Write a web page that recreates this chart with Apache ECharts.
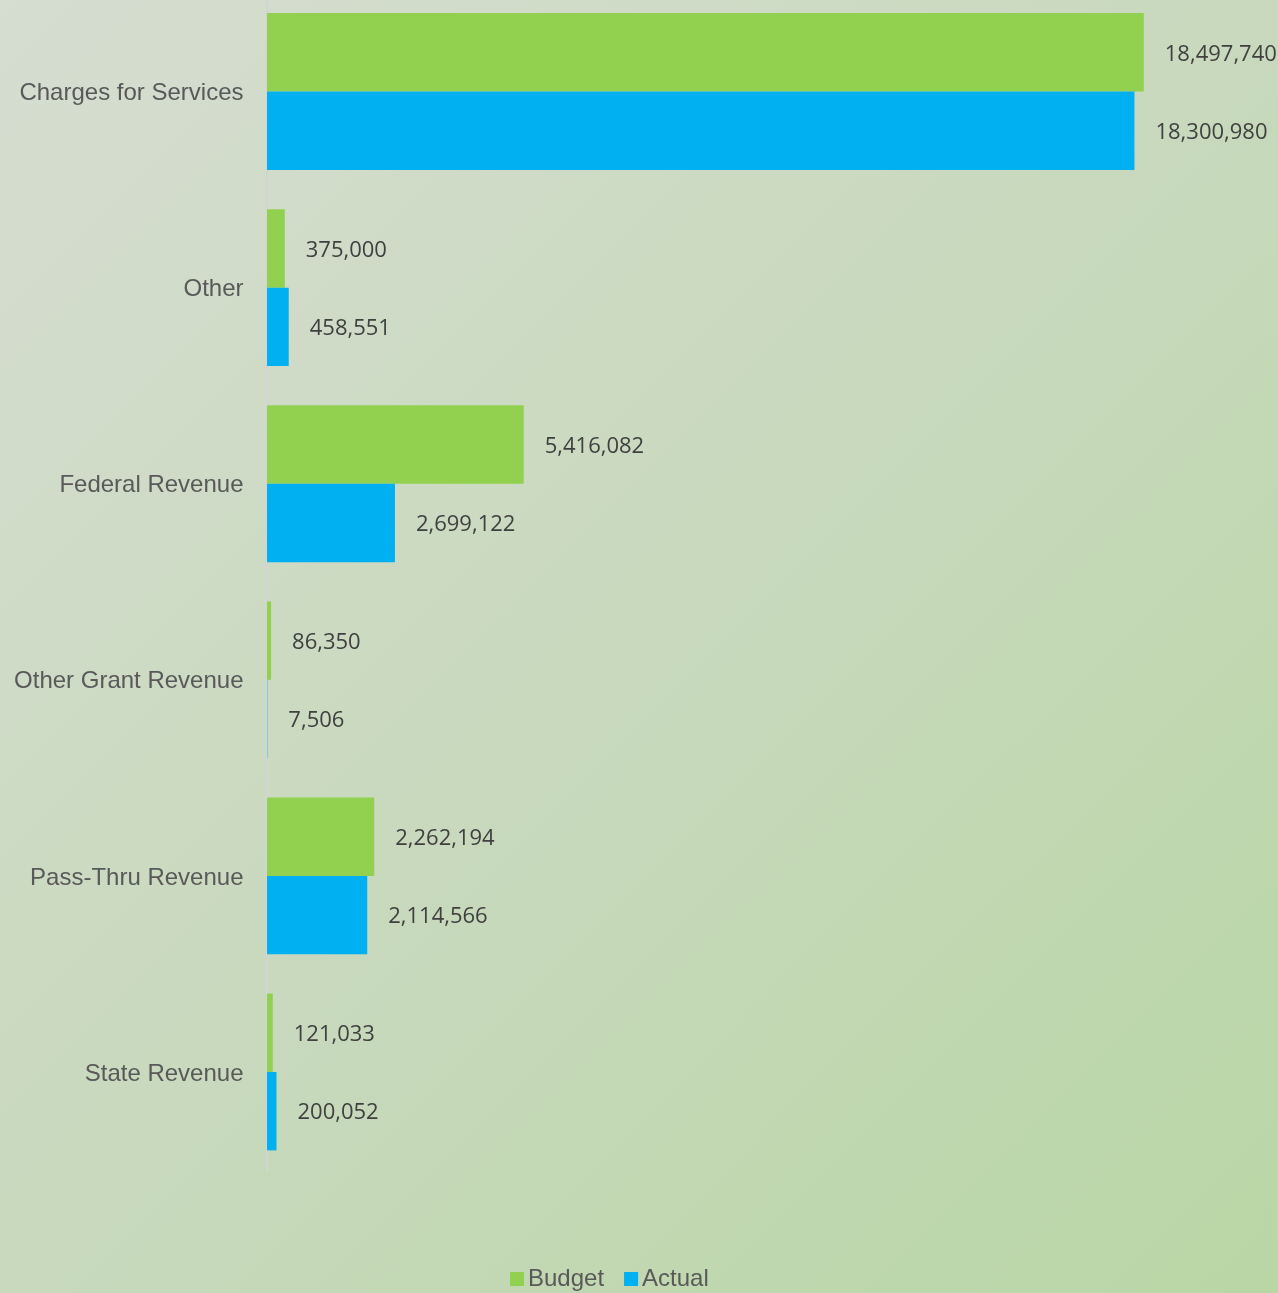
<!DOCTYPE html>
<html>
<head>
<meta charset="utf-8">
<script src="https://cdn.jsdelivr.net/npm/echarts@6/dist/echarts.min.js"></script>
<style>
  html, body { margin: 0; padding: 0; }
  body {
    width: 1278px; height: 1293px; overflow: hidden; position: relative;
    background: linear-gradient(135deg, #d6ddd1 0%, #c8d9bd 50%, #b9d6a5 100%);
  }
  /* plot sits a few pixels above the page edge so the first band is clipped */
  #chart { position: absolute; left: 0; top: -7px; width: 1278px; height: 1300px; }
</style>
</head>
<body>
<div id="chart"></div>
<script>
// Revenue by source: budget vs. actual
const categories = ['Charges for Services', 'Other', 'Federal Revenue', 'Other Grant Revenue', 'Pass-Thru Revenue', 'State Revenue'];
const budget = [18497740, 375000, 5416082, 86350, 2262194, 121033];
const actual = [18300980, 458551, 2699122, 7506, 2114566, 200052];

const chart = echarts.init(document.getElementById('chart'), null, { renderer: 'canvas' });

const valueLabel = {
  show: true,
  position: 'right',
  distance: 21,
  offset: [0, 2],
  fontFamily: 'Open Sans',
  fontSize: 22,
  color: '#404040',
  formatter: p => p.value.toLocaleString('en-US')
};

chart.setOption({
  backgroundColor: 'transparent',
  animation: false,
  grid: { left: 267, top: 0.5, width: 948, height: 1176.5, containLabel: false },
  xAxis: {
    type: 'value', min: 0, max: 20000000,
    show: false, splitLine: { show: false }
  },
  yAxis: {
    type: 'category', inverse: true, data: categories, offset: 1.5,
    axisLine: { show: true, lineStyle: { color: '#d4d4d4', width: 2 } },
    axisTick: { show: false },
    axisLabel: {
      margin: 22, fontFamily: 'Liberation Sans', fontSize: 24, color: '#595959',
      formatter: v => '{c|' + v + '}',
      rich: { c: { fontFamily: 'Liberation Sans', fontSize: 24, color: '#595959', padding: [4, 0, 0, 0] } }
    }
  },
  legend: {
    left: 505, top: 1269,
    icon: 'rect', itemWidth: 14, itemHeight: 14, itemGap: 20,
    textStyle: { fontFamily: 'Liberation Sans', fontSize: 24, color: '#595959', padding: [0, 0, 0, -1] },
    data: ['Budget', 'Actual']
  },
  series: [
    { name: 'Budget', type: 'bar', data: budget, barGap: '0%', barCategoryGap: '20%',
      itemStyle: { color: '#92d050' }, label: valueLabel },
    { name: 'Actual', type: 'bar', data: actual, barGap: '0%', barCategoryGap: '20%',
      itemStyle: { color: '#00b0f0' }, label: valueLabel }
  ]
});
</script>
</body>
</html>
